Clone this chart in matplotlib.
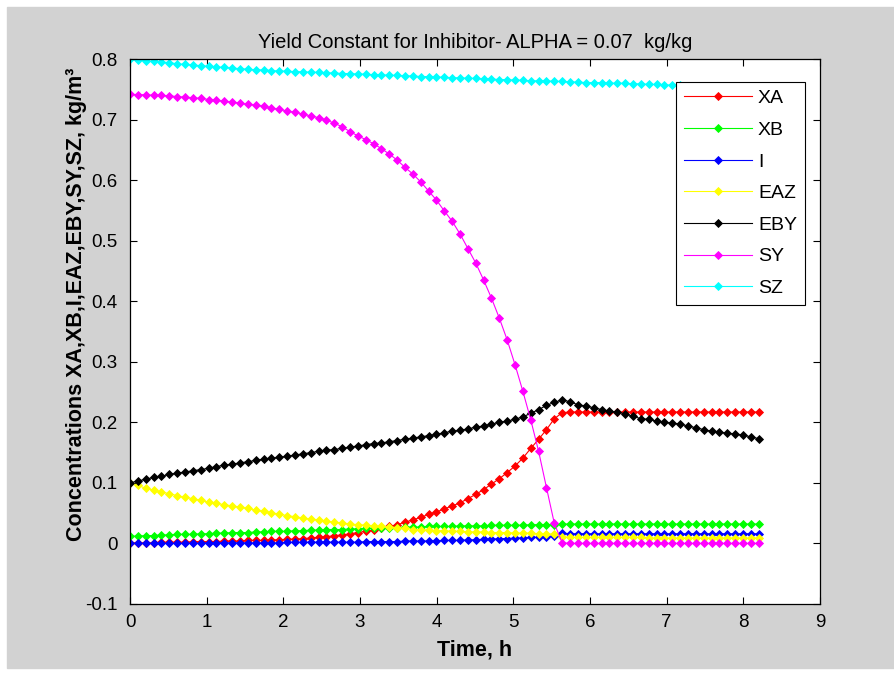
import matplotlib.pyplot as plt
import matplotlib.patches as patches

# time grid (h)
time_h = [0.0, 0.1025, 0.205, 0.3075, 0.41, 0.5125, 0.615, 0.7175, 0.82, 0.9225,
          1.025, 1.1275, 1.23, 1.3325, 1.435, 1.5375, 1.64, 1.7425, 1.845, 1.9475,
          2.05, 2.1525, 2.255, 2.3575, 2.46, 2.5625, 2.665, 2.7675, 2.87, 2.9725,
          3.075, 3.1775, 3.28, 3.3825, 3.485, 3.5875, 3.69, 3.7925, 3.895, 3.9975,
          4.1, 4.2025, 4.305, 4.4075, 4.51, 4.6125, 4.715, 4.8175, 4.92, 5.0225,
          5.125, 5.2275, 5.33, 5.4325, 5.535, 5.6375, 5.74, 5.8425, 5.945, 6.0475,
          6.15, 6.2525, 6.355, 6.4575, 6.56, 6.6625, 6.765, 6.8675, 6.97, 7.0725,
          7.175, 7.2775, 7.38, 7.4825, 7.585, 7.6875, 7.79, 7.8925, 7.995, 8.0975,
          8.2]

xa = [0.001, 0.001, 0.001, 0.001, 0.002, 0.002, 0.002, 0.002, 0.003, 0.003,
      0.003, 0.003, 0.004, 0.004, 0.004, 0.005, 0.005, 0.005, 0.006, 0.006,
      0.007, 0.007, 0.008, 0.009, 0.010, 0.011, 0.013, 0.014, 0.016, 0.018,
      0.020, 0.022, 0.025, 0.028, 0.031, 0.035, 0.039, 0.043, 0.048, 0.052,
      0.057, 0.062, 0.067, 0.074, 0.081, 0.089, 0.098, 0.107, 0.117, 0.128,
      0.141, 0.157, 0.172, 0.188, 0.206, 0.216, 0.217, 0.217, 0.217, 0.217,
      0.217, 0.217, 0.217, 0.217, 0.217, 0.217, 0.217, 0.217, 0.217, 0.217,
      0.217, 0.217, 0.217, 0.217, 0.217, 0.217, 0.217, 0.217, 0.217, 0.217,
      0.217]

xb = [0.012, 0.012, 0.013, 0.013, 0.014, 0.014, 0.015, 0.015, 0.015, 0.016,
      0.016, 0.017, 0.017, 0.018, 0.018, 0.018, 0.019, 0.019, 0.020, 0.020,
      0.020, 0.021, 0.021, 0.022, 0.022, 0.023, 0.023, 0.023, 0.024, 0.024,
      0.025, 0.025, 0.026, 0.026, 0.026, 0.027, 0.027, 0.027, 0.028, 0.028,
      0.028, 0.028, 0.029, 0.029, 0.029, 0.029, 0.030, 0.030, 0.030, 0.030,
      0.030, 0.031, 0.031, 0.031, 0.031, 0.032, 0.032, 0.032, 0.032, 0.032,
      0.032, 0.032, 0.032, 0.032, 0.032, 0.032, 0.032, 0.032, 0.032, 0.032,
      0.032, 0.032, 0.032, 0.032, 0.032, 0.032, 0.032, 0.032, 0.032, 0.032,
      0.032]

inhib = [0.000, 0.000, 0.000, 0.000, 0.000, 0.000, 0.000, 0.000, 0.000, 0.000,
         0.001, 0.001, 0.001, 0.001, 0.001, 0.001, 0.001, 0.001, 0.001, 0.001,
         0.002, 0.002, 0.002, 0.002, 0.002, 0.002, 0.002, 0.002, 0.002, 0.002,
         0.003, 0.003, 0.003, 0.003, 0.003, 0.004, 0.004, 0.004, 0.004, 0.004,
         0.005, 0.005, 0.005, 0.006, 0.006, 0.007, 0.007, 0.008, 0.008, 0.009,
         0.009, 0.010, 0.010, 0.011, 0.013, 0.017, 0.016, 0.016, 0.016, 0.016,
         0.016, 0.016, 0.016, 0.016, 0.016, 0.016, 0.016, 0.016, 0.016, 0.016,
         0.016, 0.016, 0.016, 0.016, 0.016, 0.016, 0.016, 0.016, 0.016, 0.016,
         0.016]

eaz = [0.100, 0.096, 0.091, 0.088, 0.085, 0.082, 0.079, 0.076, 0.074, 0.071,
       0.068, 0.066, 0.064, 0.062, 0.060, 0.058, 0.055, 0.053, 0.051, 0.048,
       0.046, 0.044, 0.042, 0.040, 0.039, 0.037, 0.035, 0.034, 0.032, 0.031,
       0.030, 0.029, 0.028, 0.027, 0.026, 0.025, 0.023, 0.023, 0.022, 0.021,
       0.021, 0.020, 0.020, 0.019, 0.019, 0.019, 0.018, 0.018, 0.018, 0.017,
       0.017, 0.017, 0.016, 0.016, 0.015, 0.011, 0.010, 0.010, 0.010, 0.010,
       0.010, 0.010, 0.010, 0.010, 0.010, 0.010, 0.009, 0.009, 0.009, 0.009,
       0.009, 0.009, 0.009, 0.009, 0.009, 0.009, 0.009, 0.009, 0.009, 0.009,
       0.009]

eby = [0.100, 0.103, 0.106, 0.109, 0.111, 0.114, 0.116, 0.118, 0.120, 0.122,
       0.124, 0.127, 0.129, 0.131, 0.133, 0.135, 0.137, 0.139, 0.141, 0.142,
       0.144, 0.146, 0.148, 0.150, 0.152, 0.154, 0.155, 0.157, 0.159, 0.161,
       0.163, 0.165, 0.166, 0.168, 0.170, 0.172, 0.174, 0.176, 0.178, 0.180,
       0.183, 0.185, 0.187, 0.189, 0.192, 0.194, 0.197, 0.200, 0.202, 0.205,
       0.209, 0.215, 0.221, 0.228, 0.233, 0.237, 0.234, 0.229, 0.227, 0.224,
       0.221, 0.218, 0.217, 0.214, 0.210, 0.206, 0.205, 0.202, 0.200, 0.199,
       0.197, 0.194, 0.191, 0.188, 0.185, 0.184, 0.182, 0.181, 0.179, 0.176,
       0.173]

sy = [0.742, 0.741, 0.741, 0.740, 0.740, 0.739, 0.738, 0.737, 0.736, 0.735,
      0.733, 0.732, 0.730, 0.729, 0.727, 0.725, 0.724, 0.722, 0.719, 0.717,
      0.714, 0.712, 0.709, 0.706, 0.703, 0.699, 0.694, 0.688, 0.680, 0.673,
      0.667, 0.660, 0.652, 0.643, 0.633, 0.621, 0.610, 0.597, 0.582, 0.567,
      0.549, 0.532, 0.511, 0.487, 0.463, 0.435, 0.405, 0.372, 0.336, 0.295,
      0.251, 0.204, 0.152, 0.092, 0.033, 0.001, 0.000, 0.000, 0.000, 0.000,
      0.000, 0.000, 0.000, 0.000, 0.000, 0.000, 0.000, 0.000, 0.000, 0.000,
      0.000, 0.000, 0.000, 0.000, 0.000, 0.000, 0.000, 0.000, 0.000, 0.000,
      0.000]

sz = [0.800, 0.799, 0.797, 0.796, 0.795, 0.794, 0.792, 0.791, 0.790, 0.789,
      0.788, 0.787, 0.786, 0.785, 0.784, 0.783, 0.782, 0.782, 0.781, 0.780,
      0.780, 0.779, 0.779, 0.778, 0.778, 0.777, 0.777, 0.776, 0.776, 0.775,
      0.775, 0.774, 0.774, 0.773, 0.773, 0.772, 0.772, 0.771, 0.771, 0.770,
      0.770, 0.769, 0.769, 0.768, 0.768, 0.767, 0.767, 0.766, 0.766, 0.765,
      0.765, 0.764, 0.764, 0.764, 0.763, 0.763, 0.762, 0.762, 0.761, 0.761,
      0.761, 0.760, 0.760, 0.760, 0.759, 0.759, 0.758, 0.758, 0.757, 0.757,
      0.757, 0.756, 0.756, 0.755, 0.755, 0.754, 0.754, 0.753, 0.753, 0.752,
      0.752]

labels = ['XA', 'XB', 'I', 'EAZ', 'EBY', 'SY', 'SZ']
colors = ['#ff0000', '#00ff00', '#0000ff', '#ffff00', '#000000', '#ff00ff', '#00ffff']
series = [xa, xb, inhib, eaz, eby, sy, sz]

plt.rcParams['font.family'] = ['Liberation Sans', 'DejaVu Sans']

fig = plt.figure(figsize=(8.94, 6.75), dpi=100, facecolor='white')
# matlab-style grey window area, kept behind the axes
fig.patches.append(patches.Rectangle((7 / 894, 7 / 675), 1, 661 / 675,
                                     transform=fig.transFigure,
                                     color='#d2d2d2', zorder=-10))
ax = fig.add_axes([130 / 894, 1 - 604 / 675, 690 / 894, 545 / 675])
ax.set_facecolor('white')

for y, color, label in zip(series, colors, labels):
    ax.plot(time_h, y, '-D', color=color, lw=0.8, ms=4.0,
            markeredgewidth=0.6, label=label)

ax.set_xlim(0, 9)
ax.set_ylim(-0.1, 0.8)
ax.set_xticks(range(10))
ax.set_yticks([-0.1, 0, 0.1, 0.2, 0.3, 0.4, 0.5, 0.6, 0.7, 0.8])
ax.set_yticklabels(['-0.1', '0', '0.1', '0.2', '0.3', '0.4', '0.5', '0.6', '0.7', '0.8'])
ax.tick_params(direction='in', length=5, width=0.8, top=True, right=True,
               labelsize=13.5, colors='black')
ax.tick_params(axis='x', pad=7)
ax.tick_params(axis='y', pad=9)
for sp in ax.spines.values():
    sp.set_linewidth(0.9)

ax.set_title('Yield Constant for Inhibitor- ALPHA = 0.07  kg/kg',
             fontsize=14.5, pad=8)
ax.set_xlabel('Time, h', fontsize=15.5, fontweight='bold', labelpad=6)
ax.set_ylabel('Concentrations XA,XB,I,EAZ,EBY,SY,SZ, kg/m³', fontsize=15.5,
              fontweight='bold')
ax.yaxis.set_label_coords(-0.063, 0.55)

leg = ax.legend(loc='upper right', bbox_to_anchor=(0.978, 0.958),
                borderaxespad=0, prop={'size': 14},
                handlelength=3.5, handletextpad=0.3, labelspacing=0.72,
                borderpad=0.4, fancybox=False, framealpha=1, edgecolor='black')
leg.get_frame().set_linewidth(0.8)

plt.savefig('out.png', dpi=100, facecolor=fig.get_facecolor())
